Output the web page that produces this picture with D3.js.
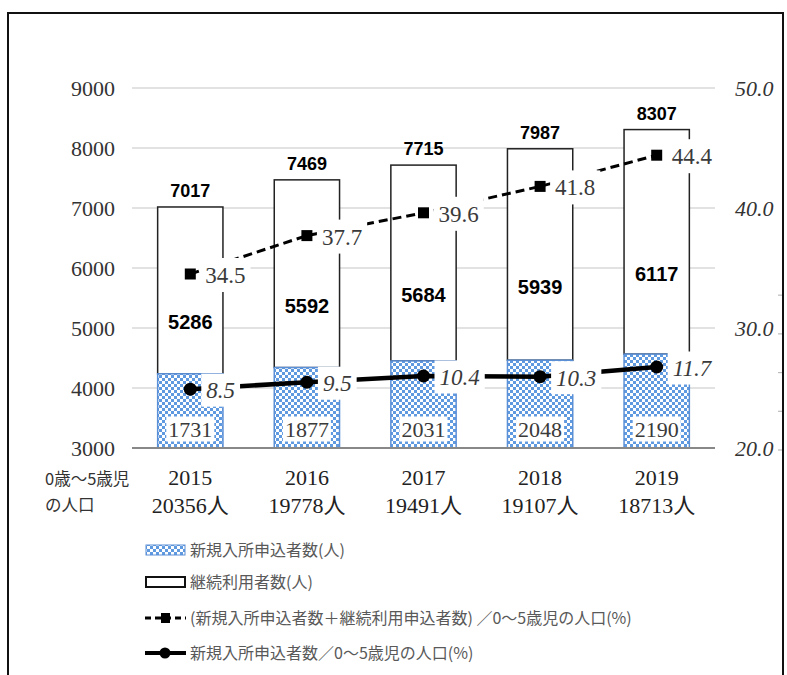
<!DOCTYPE html>
<html><head><meta charset="utf-8">
<script src="https://cdn.jsdelivr.net/npm/d3@7"></script>
<style>body{margin:0;background:#fff}svg{display:block}</style>
</head><body>
<svg id="c" width="787" height="675"></svg>
<script>
const categories = ['2015','2016','2017','2018','2019'];
const population = [20356,19778,19491,19107,18713];
const newApplicants = [1731,1877,2031,2048,2190];
const continuing = [5286,5592,5684,5939,6117];
const totals = [7017,7469,7715,7987,8307];
const ratioTotal = [34.5,37.7,39.6,41.8,44.4];
const ratioNew = [8.5,9.5,10.4,10.3,11.7];
const leftTicks = [3000,4000,5000,6000,7000,8000,9000];
const rightTicks = [20,30,40,50];
const legendLabels = ['新規入所申込者数(人)','継続利用者数(人)','(新規入所申込者数＋継続利用申込者数) ／0～5歳児の人口(%)','新規入所申込者数／0～5歳児の人口(%)'];

const SERIF = "'Liberation Serif','Noto Sans CJK JP',serif";
const JP = "'Noto Sans CJK JP',sans-serif";
const svg = d3.select('#c');
const L = 132, R = 715, T = 88, B = 448;

const x = d3.scaleBand().domain(categories).range([L,R]).paddingInner(0.44).paddingOuter(0.22);
const yLeft = d3.scaleLinear().domain([3000,9000]).range([B,T]);
const yBlue = d3.scaleLinear().domain([0,8400]).range([B,T]);
const yRight = d3.scaleLinear().domain([20,50]).range([B,T]);
const ySolid = d3.scaleLinear().domain([0,52]).range([B,T]);
const cx = i => x(categories[i]) + x.bandwidth()/2;

// pattern
const defs = svg.append('defs');
const pat = defs.append('pattern').attr('id','chk').attr('patternUnits','userSpaceOnUse').attr('width',6).attr('height',6);
pat.append('rect').attr('width',6).attr('height',6).attr('fill','#fff');
pat.append('rect').attr('x',0).attr('y',0).attr('width',3).attr('height',3).attr('fill','#5f99e0');
pat.append('rect').attr('x',3).attr('y',3).attr('width',3).attr('height',3).attr('fill','#5f99e0');

// frame
svg.append('rect').attr('x',8).attr('y',13).attr('width',775).attr('height',700)
  .attr('fill','none').attr('stroke','#111').attr('stroke-width',2);

// gridlines
svg.append('g').selectAll('line').data(leftTicks.slice(1)).join('line')
  .attr('x1',L).attr('x2',R).attr('y1',d=>yLeft(d)).attr('y2',d=>yLeft(d))
  .attr('stroke','#d9d9d9').attr('stroke-width',1.5);

// left axis labels
const la = d3.axisLeft(yLeft).tickValues(leftTicks).tickSize(0).tickPadding(0).tickFormat(d3.format('d'));
const gl = svg.append('g').attr('transform','translate(115,0)').call(la);
gl.select('.domain').remove();
gl.selectAll('text').attr('font-family',SERIF).attr('font-size',22).attr('fill','#333');

// right axis labels
const ra = d3.axisRight(yRight).tickValues(rightTicks).tickSize(0).tickPadding(0).tickFormat(d3.format('.1f'));
const gr = svg.append('g').attr('transform','translate(735,0)').call(ra);
gr.select('.domain').remove();
gr.selectAll('text').attr('font-family',SERIF).attr('font-size',22).attr('font-style','italic').attr('fill','#333');

// small right ticks
const minorTicks = [0,1,2,3,4];
const yMinor = d3.scaleLinear().domain([0,9.3]).range([B+2,T+2]);
svg.append('g').selectAll('line').data(minorTicks).join('line')
  .attr('x1',778).attr('x2',782).attr('y1',d=>yMinor(d)).attr('y2',d=>yMinor(d))
  .attr('stroke','#bbb').attr('stroke-width',1.2);

// white bars
svg.append('g').selectAll('rect').data(categories).join('rect')
  .attr('x',d=>x(d)).attr('width',x.bandwidth())
  .attr('y',(d,i)=>yLeft(totals[i])).attr('height',(d,i)=>yBlue(newApplicants[i])-yLeft(totals[i]))
  .attr('fill','#fff').attr('stroke','#222').attr('stroke-width',1.5);

// blue bars
svg.append('g').selectAll('rect').data(categories).join('rect')
  .attr('x',d=>x(d)).attr('width',x.bandwidth())
  .attr('y',(d,i)=>yBlue(newApplicants[i])).attr('height',(d,i)=>B-yBlue(newApplicants[i]))
  .attr('fill','url(#chk)').attr('stroke','#5b8fd6').attr('stroke-width',1.5);

// baseline
svg.append('line').attr('x1',L).attr('x2',R).attr('y1',B).attr('y2',B).attr('stroke','#888').attr('stroke-width',2);

// lines
const lineT = d3.line().x((d,i)=>cx(i)).y(d=>yRight(d));
const lineN = d3.line().x((d,i)=>cx(i)).y(d=>ySolid(d));
svg.append('path').datum(ratioTotal).attr('d',lineT).attr('fill','none').attr('stroke','#000').attr('stroke-width',3).attr('stroke-dasharray','9,5');
svg.append('path').datum(ratioNew).attr('d',lineN).attr('fill','none').attr('stroke','#000').attr('stroke-width',4.5);

svg.append('g').selectAll('rect').data(ratioTotal).join('rect')
  .attr('x',(d,i)=>cx(i)-5.5).attr('y',d=>yRight(d)-5.5).attr('width',11).attr('height',11).attr('fill','#000');
svg.append('g').selectAll('circle').data(ratioNew).join('circle')
  .attr('cx',(d,i)=>cx(i)).attr('cy',d=>ySolid(d)).attr('r',6.5).attr('fill','#000');

// boxed labels helper
function boxedLabel(g, tx, ty, text, opts){
  const grp = g.append('g');
  const r = grp.append('rect').attr('fill','#fff');
  const t = grp.append('text').attr('x',tx).attr('y',ty).attr('dy','0.35em')
    .attr('font-family',SERIF).attr('font-size',opts.size).attr('fill','#3a3a3a')
    .attr('font-style',opts.italic?'italic':'normal')
    .attr('text-anchor',opts.anchor||'start').text(text);
  const bb = t.node().getBBox();
  r.attr('x',bb.x-opts.padX).attr('y',ty-opts.h/2).attr('width',bb.width+opts.padX*2).attr('height',opts.h);
}
const lab = svg.append('g');
ratioTotal.forEach((v,i)=>boxedLabel(lab, cx(i)+15, yRight(v)+1, v.toFixed(1), {size:23, padX:5, h:34}));
ratioNew.forEach((v,i)=>boxedLabel(lab, cx(i)+16, ySolid(v)+1, v.toFixed(1), {size:23, padX:5, h:33, italic:true}));
newApplicants.forEach((v,i)=>boxedLabel(lab, cx(i), B-19, String(v), {size:22, padX:2, h:25, anchor:'middle'}));

// continuing labels
svg.append('g').selectAll('text').data(continuing).join('text')
  .attr('x',(d,i)=>cx(i)).attr('y',(d,i)=>(yBlue(newApplicants[i])+yLeft(totals[i]))/2+32).attr('dy','0.35em')
  .attr('text-anchor','middle').attr('font-family',"'Liberation Sans',sans-serif").attr('font-weight','bold')
  .attr('font-size',20).attr('fill','#000').text(d=>d);

// total labels
svg.append('g').selectAll('text').data(totals).join('text')
  .attr('x',(d,i)=>cx(i)).attr('y',d=>yLeft(d)-10)
  .attr('text-anchor','middle').attr('font-family',"'Liberation Sans',sans-serif").attr('font-weight','bold')
  .attr('font-size',18).attr('fill','#000').text(d=>d);

// category labels
const cg = svg.append('g').attr('font-family',SERIF).attr('font-size',22).attr('fill','#222').attr('text-anchor','middle');
cg.selectAll('.yr').data(categories).join('text').attr('class','yr').attr('x',(d,i)=>cx(i)).attr('y',485).text(d=>d);
cg.selectAll('.pop').data(population).join('text').attr('class','pop').attr('x',(d,i)=>cx(i)).attr('y',513).text(d=>d+'人');

svg.append('text').attr('x',45).attr('y',485).attr('font-family',JP).attr('font-size',16.5).attr('fill','#333').text('0歳～5歳児');
svg.append('text').attr('x',45).attr('y',511).attr('font-family',JP).attr('font-size',16.5).attr('fill','#333').text('の人口');

// legend
const legY = [550,582,618,653];
const lg = svg.append('g');
lg.append('rect').attr('x',146).attr('y',legY[0]-5).attr('width',39).attr('height',10).attr('fill','url(#chk)').attr('stroke','#5b8fd6').attr('stroke-width',1);
lg.append('rect').attr('x',146).attr('y',legY[1]-5).attr('width',39).attr('height',10).attr('fill','#fff').attr('stroke','#111').attr('stroke-width',2);
lg.append('line').attr('x1',145).attr('x2',186).attr('y1',legY[2]).attr('y2',legY[2]).attr('stroke','#000').attr('stroke-width',3).attr('stroke-dasharray','6,4');
lg.append('rect').attr('x',161).attr('y',legY[2]-5).attr('width',9).attr('height',10).attr('fill','#000');
lg.append('line').attr('x1',145).attr('x2',186).attr('y1',legY[3]).attr('y2',legY[3]).attr('stroke','#000').attr('stroke-width',4);
lg.append('circle').attr('cx',165).attr('cy',legY[3]).attr('r',5.5).attr('fill','#000');
lg.selectAll('text').data(legendLabels).join('text')
  .attr('x',190).attr('y',(d,i)=>legY[i]).attr('dy','0.36em')
  .attr('font-family',JP).attr('font-size',16).attr('fill','#595959').text(d=>d);
</script>
</body></html>
